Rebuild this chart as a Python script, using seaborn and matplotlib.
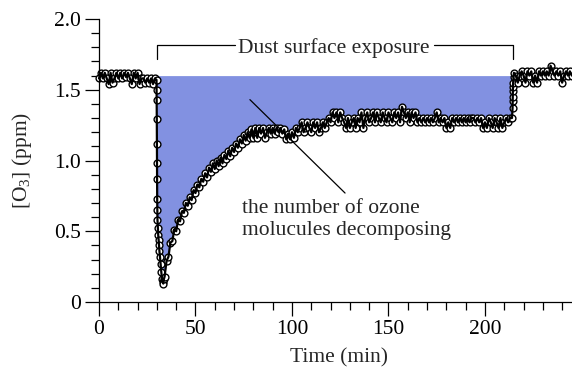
import numpy as np
import pandas as pd
import matplotlib
matplotlib.use("Agg")
import matplotlib.pyplot as plt
import seaborn as sns
from matplotlib.ticker import FixedLocator

# ---------------- data ----------------
baseline_t = list(range(0, 30))
baseline_ppm = [1.58, 1.62, 1.58, 1.62, 1.58, 1.54, 1.62, 1.55, 1.58, 1.62,
                1.58, 1.62, 1.58, 1.62, 1.59, 1.62, 1.58, 1.54, 1.62, 1.58,
                1.62, 1.54, 1.58, 1.58, 1.55, 1.58, 1.55, 1.58, 1.54, 1.58]

drop_t = [29.8, 29.85, 29.9, 29.95, 30.0, 30.05, 30.1, 30.15, 30.2, 30.3, 30.5,
          30.7, 30.9, 31.1, 31.3, 31.6, 31.9, 32.3, 32.7, 33.0, 33.3, 33.6]
drop_ppm = [1.57, 1.50, 1.43, 1.29, 1.12, 0.98, 0.87, 0.73, 0.65, 0.58, 0.52,
            0.47, 0.44, 0.40, 0.36, 0.32, 0.27, 0.21, 0.16, 0.14, 0.13, 0.16]

recovery_t = list(range(34, 215))
recovery_ppm = [
    # 34 - 80
    0.18, 0.29, 0.32, 0.42, 0.43, 0.51, 0.50, 0.58, 0.57, 0.64,
    0.63, 0.70, 0.68, 0.74, 0.72, 0.79, 0.77, 0.83, 0.81, 0.87,
    0.85, 0.91, 0.88, 0.95, 0.92, 0.98, 0.94, 1.00, 0.96, 1.02,
    0.98, 1.04, 1.01, 1.07, 1.03, 1.09, 1.06, 1.12, 1.09, 1.15,
    1.12, 1.18, 1.14, 1.20, 1.16, 1.22, 1.16,
    # 81 - 117
    1.23, 1.16, 1.23, 1.19, 1.23, 1.16, 1.20, 1.23, 1.19, 1.23,
    1.19, 1.23, 1.20, 1.23, 1.19, 1.22, 1.15, 1.19, 1.15, 1.20,
    1.16, 1.23, 1.20, 1.23, 1.27, 1.20, 1.23, 1.27, 1.23, 1.20,
    1.27, 1.23, 1.27, 1.20, 1.23, 1.27, 1.23,
    # 118 - 214
    1.27, 1.30, 1.27, 1.34, 1.30, 1.34, 1.27, 1.34, 1.30, 1.27,
    1.23, 1.30, 1.23, 1.27, 1.30, 1.23, 1.30, 1.27, 1.34, 1.23,
    1.30, 1.34, 1.27, 1.30, 1.34, 1.27, 1.34, 1.30, 1.27, 1.34,
    1.30, 1.27, 1.34, 1.30, 1.27, 1.34, 1.30, 1.34, 1.27, 1.38,
    1.34, 1.30, 1.34, 1.27, 1.34, 1.30, 1.34, 1.27, 1.30, 1.27,
    1.30, 1.27, 1.30, 1.27, 1.30, 1.27, 1.30, 1.34, 1.27, 1.30,
    1.27, 1.30, 1.23, 1.27, 1.23, 1.30, 1.27, 1.30, 1.27, 1.30,
    1.27, 1.30, 1.27, 1.30, 1.27, 1.30, 1.30, 1.27, 1.30, 1.27,
    1.30, 1.23, 1.27, 1.23, 1.30, 1.27, 1.23, 1.30, 1.27, 1.23,
    1.30, 1.23, 1.27, 1.30, 1.27, 1.30, 1.30,
]

rise_t = [214.3, 214.35, 214.4, 214.45, 214.5, 214.6, 214.8, 215.0]
rise_ppm = [1.37, 1.42, 1.45, 1.49, 1.52, 1.55, 1.59, 1.62]

post_t = list(range(216, 246))
post_ppm = [1.60, 1.55, 1.60, 1.63, 1.60, 1.55, 1.63, 1.60, 1.63, 1.55,
            1.60, 1.55, 1.63, 1.60, 1.63, 1.60, 1.63, 1.60, 1.67, 1.63,
            1.60, 1.63, 1.60, 1.63, 1.55, 1.60, 1.63, 1.60, 1.63, 1.60]

initial_level = 1.6
exposure_start, exposure_end = 29.8, 215.0

x_ticks = [0, 50, 100, 150, 200]
y_ticks = [0, 0.5, 1.0, 1.5, 2.0]
y_tick_labels = ["0", "0.5", "1.0", "1.5", "2.0"]

df = pd.DataFrame({
    "t": baseline_t + drop_t + recovery_t + rise_t + post_t,
    "o3": baseline_ppm + drop_ppm + recovery_ppm + rise_ppm + post_ppm,
})

# ---------------- style ----------------
sns.set_style("ticks")
plt.rcParams["font.family"] = ["Liberation Serif", "DejaVu Serif"]
plt.rcParams["mathtext.fontset"] = "custom"
plt.rcParams["mathtext.rm"] = "Liberation Serif"
plt.rcParams["mathtext.it"] = "Liberation Serif:italic"

FS = 15.5
fig = plt.figure(figsize=(5.72, 3.72), dpi=100)
ax = fig.add_axes([99 / 572, 70 / 372, 473 / 572, 283 / 372])

# shaded area
mask = (df["t"] >= exposure_start) & (df["t"] <= exposure_end)
ax.fill_between(df["t"], df["o3"], initial_level, where=mask,
                color="#8291E1", linewidth=0, zorder=1)

# data: white circles, with the connecting line drawn over them
sns.scatterplot(data=df, x="t", y="o3", ax=ax, marker="o", s=24,
                color="white", edgecolor="black", linewidth=1.0,
                zorder=2, clip_on=False, legend=False)
sns.lineplot(data=df, x="t", y="o3", sort=False, estimator=None, ax=ax,
             color="black", linewidth=1.6, zorder=3, clip_on=False)

# annotation: bracket
ax.plot([29.9, 29.9, 70.6], [1.72, 1.815, 1.815], color="black", lw=0.9,
        clip_on=False, zorder=4)
ax.plot([173.8, 214.7, 214.7], [1.815, 1.815, 1.72], color="black", lw=0.9,
        clip_on=False, zorder=4)
ax.text(121.5, 1.762, "Dust surface exposure", ha="center", va="baseline",
        fontsize=FS)

# annotation: pointer + text
ax.plot([78.2, 127.5], [1.43, 0.77], color="black", lw=0.9, zorder=4)
ax.text(73.9, 0.629, "the number of ozone", ha="left", va="baseline",
        fontsize=FS)
ax.text(73.9, 0.470, "molucules decomposing", ha="left", va="baseline",
        fontsize=FS)

# axes
ax.set_xlim(0, 245.1)
ax.set_ylim(0, 2.0)
ax.set_xticks(x_ticks)
ax.set_xticklabels([str(v) for v in x_ticks])
ax.set_yticks(y_ticks)
ax.set_yticklabels(y_tick_labels)
ax.xaxis.set_minor_locator(FixedLocator(list(range(0, 250, 10))))
ax.yaxis.set_minor_locator(FixedLocator([i / 10 for i in range(0, 21)]))
ax.tick_params(which="major", length=10, width=0.9, direction="out",
               labelsize=FS, pad=3, color="black", labelcolor="black")
ax.tick_params(which="minor", length=5.5, width=0.9, direction="out",
               color="black")
for s in ["top", "right"]:
    ax.spines[s].set_visible(False)
for s in ["left", "bottom"]:
    ax.spines[s].set_linewidth(0.9)
    ax.spines[s].set_color("black")
ax.set_xlabel("")
ax.set_ylabel("")

fig.text(338.5 / 572, 1 - 358 / 372, "Time (min)", ha="center", va="center",
         fontsize=FS)
fig.text(22 / 572, 1 - 160.5 / 372, r"[O$_\mathregular{3}$] (ppm)",
         ha="center", va="center", rotation=90, fontsize=FS)

fig.savefig("out.png", dpi=100)
